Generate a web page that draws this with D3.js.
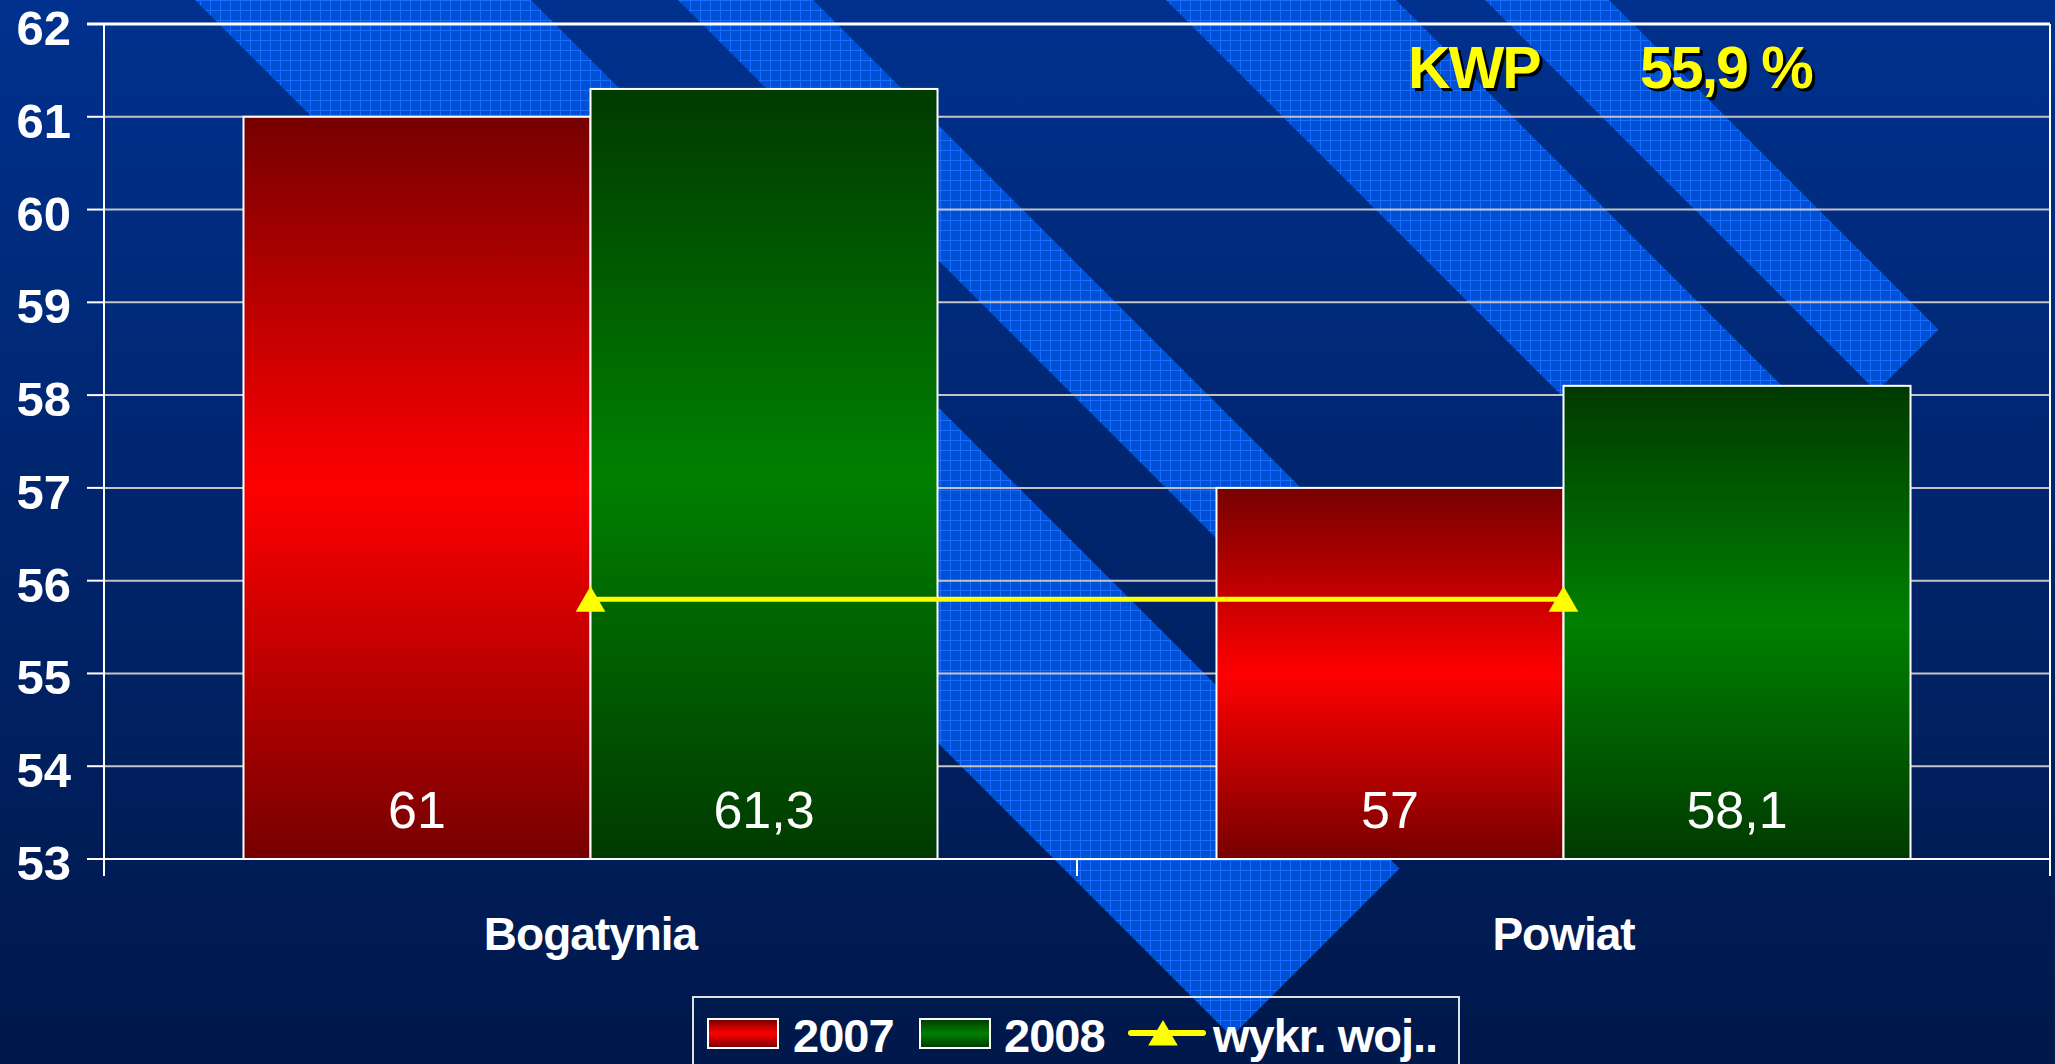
<!DOCTYPE html>
<html>
  <head>
    <meta charset="utf-8" />
    <title>Bogatynia / Powiat</title>
    <style>
      body {
        margin: 0;
        background: #001848;
      }
      svg {
        display: block;
        font-family: "Liberation Sans", Arial, sans-serif;
      }
      .grid line {
        stroke: #c4c4c4;
        stroke-width: 2px;
      }
      .axis line {
        stroke: #ffffff;
        stroke-width: 2px;
      }
    </style>
  </head>
  <body>
    <svg id="chart"></svg>

    <script src="https://d3js.org/d3.v7.min.js"></script>
    <script>
      // data
      const categories = ["Bogatynia", "Powiat"];
      const seriesNames = ["2007", "2008"];
      const values2007 = [61, 57];
      const values2008 = [61.3, 58.1];
      const wojValues = [55.8, 55.8];
      const lineName = "wykr. woj..";
      const yTicks = [53, 54, 55, 56, 57, 58, 59, 60, 61, 62];
      const kwpLabel = "KWP";
      const kwpValue = "55,9 %";

      const width = 2055;
      const height = 1064;
      const margin = { top: 24, right: 5, bottom: 205, left: 104 };

      const svg = d3
        .select("#chart")
        .attr("width", width)
        .attr("height", height);

      const defs = svg.append("defs");

      // background gradient
      const bg = defs
        .append("linearGradient")
        .attr("id", "bg")
        .attr("x1", 0)
        .attr("y1", 0)
        .attr("x2", 0)
        .attr("y2", 1);
      bg.append("stop").attr("offset", "0%").attr("stop-color", "#00318e");
      bg.append("stop").attr("offset", "100%").attr("stop-color", "#00184a");

      // grid texture for the light stripes
      const pat = defs
        .append("pattern")
        .attr("id", "texture")
        .attr("patternUnits", "userSpaceOnUse")
        .attr("width", 10)
        .attr("height", 10);
      pat.append("rect").attr("width", 10).attr("height", 10).attr("fill", "#0050d4");
      pat.append("rect").attr("width", 10).attr("height", 1).attr("fill", "#1a6cff");
      pat.append("rect").attr("width", 1).attr("height", 10).attr("fill", "#1a6cff");

      function barGradient(id, dark, bright) {
        const g = defs
          .append("linearGradient")
          .attr("id", id)
          .attr("x1", 0)
          .attr("y1", 0)
          .attr("x2", 0)
          .attr("y2", 1);
        g.append("stop").attr("offset", "0%").attr("stop-color", dark);
        g.append("stop").attr("offset", "50%").attr("stop-color", bright);
        g.append("stop").attr("offset", "100%").attr("stop-color", dark);
      }
      barGradient("grad2007", "#760000", "#ff0000");
      barGradient("grad2008", "#003a00", "#008000");
      const fills = { "2007": "url(#grad2007)", "2008": "url(#grad2008)" };

      svg
        .append("rect")
        .attr("width", width)
        .attr("height", height)
        .attr("fill", "url(#bg)");

      // diagonal decoration stripes (x - y = c), cut at x + y = end
      const stripeEnd = 2268;
      const stripes = [
        [195, 531],
        [678, 813],
        [1166, 1396],
        [1485, 1609],
      ];
      svg
        .append("g")
        .selectAll("polygon")
        .data(stripes)
        .join("polygon")
        .attr("fill", "url(#texture)")
        .attr("points", ([c0, c1]) => {
          const t0 = (stripeEnd - c0) / 2;
          const t1 = (stripeEnd - c1) / 2;
          return [
            [c0 - 100, -100],
            [c1 - 100, -100],
            [c1 + t1, t1],
            [c0 + t0, t0],
          ].join(" ");
        });

      const x0 = d3
        .scaleBand()
        .domain(categories)
        .range([margin.left, width - margin.right]);

      const x1 = d3
        .scaleBand()
        .domain(seriesNames)
        .range([0, x0.bandwidth()])
        .paddingOuter(0.402);

      const y = d3
        .scaleLinear()
        .domain([53, 62])
        .range([height - margin.bottom, margin.top]);

      // gridlines
      svg
        .append("g")
        .attr("class", "grid")
        .selectAll("line")
        .data(yTicks.slice(1, -1))
        .join("line")
        .attr("x1", margin.left)
        .attr("x2", width - margin.right)
        .attr("y1", (d) => y(d))
        .attr("y2", (d) => y(d));

      // frame top and right
      svg
        .append("line")
        .attr("x1", margin.left - 17)
        .attr("x2", width - margin.right)
        .attr("y1", y(62))
        .attr("y2", y(62))
        .attr("stroke", "#ffffff")
        .attr("stroke-width", 3);
      svg
        .append("line")
        .attr("x1", width - margin.right)
        .attr("x2", width - margin.right)
        .attr("y1", y(62))
        .attr("y2", y(53))
        .attr("stroke", "#ffffff")
        .attr("stroke-width", 2);

      // bars
      const rows = categories.map((c, i) => ({
        category: c,
        values: [
          { key: "2007", value: values2007[i] },
          { key: "2008", value: values2008[i] },
        ],
      }));

      const groups = svg
        .append("g")
        .selectAll("g")
        .data(rows)
        .join("g")
        .attr("transform", (d) => `translate(${x0(d.category)},0)`);

      groups
        .selectAll("rect")
        .data((d) => d.values)
        .join("rect")
        .attr("x", (d) => x1(d.key))
        .attr("y", (d) => y(d.value))
        .attr("width", x1.bandwidth())
        .attr("height", (d) => y(53) - y(d.value))
        .attr("fill", (d) => fills[d.key])
        .attr("stroke", "#ffffff")
        .attr("stroke-width", 2);

      groups
        .selectAll("text")
        .data((d) => d.values)
        .join("text")
        .attr("x", (d) => x1(d.key) + x1.bandwidth() / 2)
        .attr("y", y(53) - 31)
        .attr("text-anchor", "middle")
        .attr("fill", "#ffffff")
        .attr("font-size", 52)
        .text((d) => String(d.value).replace(".", ","));

      // axes
      const axis = svg.append("g").attr("class", "axis");
      axis
        .append("line")
        .attr("x1", margin.left)
        .attr("x2", margin.left)
        .attr("y1", y(62))
        .attr("y2", y(53) + 17);
      axis
        .append("line")
        .attr("x1", margin.left)
        .attr("x2", width - margin.right)
        .attr("y1", y(53))
        .attr("y2", y(53));
      axis
        .selectAll(".ytick")
        .data(yTicks)
        .join("line")
        .attr("class", "ytick")
        .attr("x1", margin.left - 17)
        .attr("x2", margin.left)
        .attr("y1", (d) => y(d))
        .attr("y2", (d) => y(d));
      const xTickPos = categories.map((c) => x0(c)).concat([x0.range()[1]]);
      axis
        .selectAll(".xtick")
        .data(xTickPos)
        .join("line")
        .attr("class", "xtick")
        .attr("x1", (d) => d)
        .attr("x2", (d) => d)
        .attr("y1", y(53))
        .attr("y2", y(53) + 17);

      svg
        .append("g")
        .selectAll("text")
        .data(yTicks)
        .join("text")
        .attr("x", 71)
        .attr("y", (d) => y(d))
        .attr("dy", 21)
        .attr("text-anchor", "end")
        .attr("fill", "#ffffff")
        .attr("font-size", 49)
        .attr("font-weight", "bold")
        .text((d) => d);

      svg
        .append("g")
        .selectAll("text")
        .data(categories)
        .join("text")
        .attr("x", (d) => x0(d) + x0.bandwidth() / 2)
        .attr("y", y(53) + 91)
        .attr("text-anchor", "middle")
        .attr("fill", "#ffffff")
        .attr("font-size", 46)
        .attr("font-weight", "bold")
        .attr("letter-spacing", -1)
        .text((d) => d);

      // wykr. woj. line
      const linePts = categories.map((c, i) => [
        x0(c) + x0.bandwidth() / 2,
        y(wojValues[i]),
      ]);
      svg
        .append("path")
        .attr("d", d3.line()(linePts))
        .attr("fill", "none")
        .attr("stroke", "#ffff00")
        .attr("stroke-width", 5);
      const tri = d3.symbol(d3.symbolTriangle, 380);
      svg
        .append("g")
        .selectAll("path")
        .data(linePts)
        .join("path")
        .attr("d", tri)
        .attr("transform", (d) => `translate(${d[0]},${d[1] + 4})`)
        .attr("fill", "#ffff00");

      // KWP annotation
      const kwp = svg
        .append("g")
        .attr("font-size", 59)
        .attr("font-weight", "bold")
        .attr("letter-spacing", -2);
      [
        [kwpLabel, 1408],
        [kwpValue, 1640],
      ].forEach(([t, xp]) => {
        kwp
          .append("text")
          .attr("x", xp + 3)
          .attr("y", 91)
          .attr("fill", "#000000")
          .text(t);
        kwp
          .append("text")
          .attr("x", xp)
          .attr("y", 88)
          .attr("fill", "#ffff00")
          .text(t);
      });

      // legend
      const legend = svg.append("g");
      legend
        .append("rect")
        .attr("x", 693)
        .attr("y", 997)
        .attr("width", 766)
        .attr("height", 90)
        .attr("fill", "none")
        .attr("stroke", "#e0e0e0")
        .attr("stroke-width", 2);
      const swatchX = { "2007": 708, "2008": 920 };
      const textX = { "2007": 793, "2008": 1004 };
      seriesNames.forEach((s) => {
        legend
          .append("rect")
          .attr("x", swatchX[s])
          .attr("y", 1019)
          .attr("width", 70)
          .attr("height", 29)
          .attr("fill", fills[s])
          .attr("stroke", "#ffffff")
          .attr("stroke-width", 2);
        legend
          .append("text")
          .attr("x", textX[s])
          .attr("y", 1052)
          .attr("fill", "#ffffff")
          .attr("font-size", 47)
          .attr("font-weight", "bold")
          .attr("letter-spacing", -1)
          .text(s);
      });
      legend
        .append("line")
        .attr("x1", 1131)
        .attr("x2", 1203)
        .attr("y1", 1033)
        .attr("y2", 1033)
        .attr("stroke", "#ffff00")
        .attr("stroke-width", 6)
        .attr("stroke-linecap", "round");
      legend
        .append("path")
        .attr("d", tri)
        .attr("transform", "translate(1163,1037)")
        .attr("fill", "#ffff00");
      legend
        .append("text")
        .attr("x", 1213)
        .attr("y", 1052)
        .attr("fill", "#ffffff")
        .attr("font-size", 47)
        .attr("font-weight", "bold")
        .attr("letter-spacing", -1)
        .text(lineName);
    </script>
  </body>
</html>
